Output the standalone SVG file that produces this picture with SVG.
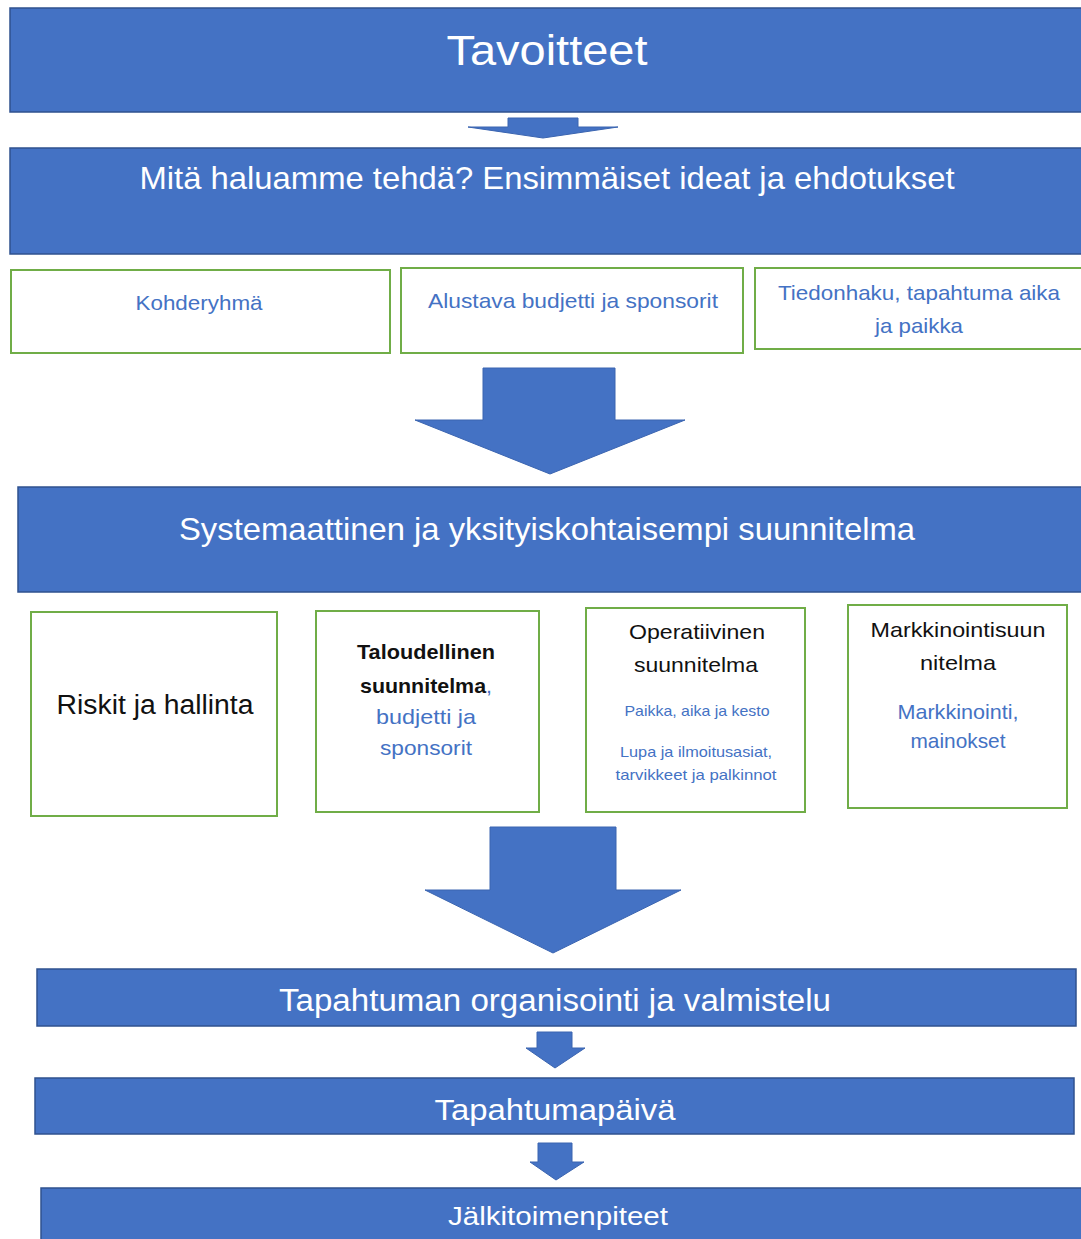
<svg xmlns="http://www.w3.org/2000/svg" width="1081" height="1239" viewBox="0 0 1081 1239">
<style>
.band{fill:#4472C4;stroke:#2F528F;stroke-width:1.5}
.gbox{fill:#fff;stroke:#70AD47;stroke-width:2}
.arr{fill:#4472C4;stroke:#3A64B0;stroke-width:1}
text{font-family:"Liberation Sans",Arial,sans-serif;text-anchor:middle}
.wt{fill:#fff}
.bt{fill:#4472C4}
.kt{fill:#111}
</style>
<rect width="1081" height="1239" fill="#fff"/>
<g id="connectors">
<polygon class="arr" points="508,118 578,118 578,127 618,127 543,138 468,127 508,127"/>
<polygon class="arr" points="483,368 615,368 615,420 685,420 550,474 415,420 483,420"/>
<polygon class="arr" points="490,827 616,827 616,890 681,890 553,953 425,890 490,890"/>
<polygon class="arr" points="537,1032 572,1032 572,1048 585,1048 555,1068 526,1048 537,1048"/>
<polygon class="arr" points="538,1143 572,1143 572,1162 584,1162 556,1180 530,1162 538,1162"/>
</g>
<g id="tavoitteet">
<rect class="band" x="10" y="8" width="1075" height="104"/>
<text class="wt" x="547" y="65" font-size="42" textLength="201" lengthAdjust="spacingAndGlyphs">Tavoitteet</text>
</g>
<g id="ideat">
<rect class="band" x="10" y="148" width="1075" height="106"/>
<text class="wt" x="547" y="189" font-size="32" textLength="815" lengthAdjust="spacingAndGlyphs">Mitä haluamme tehdä? Ensimmäiset ideat ja ehdotukset</text>
</g>
<g id="kohderyhma">
<rect class="gbox" x="11" y="270" width="379" height="83"/>
<text class="bt" x="199" y="310" font-size="21" textLength="127" lengthAdjust="spacingAndGlyphs">Kohderyhmä</text>
</g>
<g id="alustava">
<rect class="gbox" x="401" y="268" width="342" height="85"/>
<text class="bt" x="573" y="308" font-size="21" textLength="290" lengthAdjust="spacingAndGlyphs">Alustava budjetti ja sponsorit</text>
</g>
<g id="tiedonhaku">
<rect class="gbox" x="755" y="268" width="330" height="81"/>
<text class="bt" x="919" y="300" font-size="21" textLength="282" lengthAdjust="spacingAndGlyphs">Tiedonhaku, tapahtuma aika</text>
<text class="bt" x="919" y="333" font-size="21" textLength="88" lengthAdjust="spacingAndGlyphs">ja paikka</text>
</g>
<g id="systemaattinen">
<rect class="band" x="18" y="487" width="1067" height="105"/>
<text class="wt" x="547" y="540" font-size="32" textLength="736" lengthAdjust="spacingAndGlyphs">Systemaattinen ja yksityiskohtaisempi suunnitelma</text>
</g>
<g id="riskit">
<rect class="gbox" x="31" y="612" width="246" height="204"/>
<text class="kt" x="155" y="714" font-size="27" textLength="197" lengthAdjust="spacingAndGlyphs">Riskit ja hallinta</text>
</g>
<g id="taloudellinen">
<rect class="gbox" x="316" y="611" width="223" height="201"/>
<text class="kt" x="426" y="659" font-size="21" font-weight="bold" textLength="138" lengthAdjust="spacingAndGlyphs">Taloudellinen</text>
<text x="426" y="693" font-size="21" textLength="132" lengthAdjust="spacingAndGlyphs"><tspan class="kt" font-weight="bold">suunnitelma</tspan><tspan class="bt">,</tspan></text>
<text class="bt" x="426" y="724" font-size="21" textLength="100" lengthAdjust="spacingAndGlyphs">budjetti ja</text>
<text class="bt" x="426" y="755" font-size="21" textLength="92" lengthAdjust="spacingAndGlyphs">sponsorit</text>
</g>
<g id="operatiivinen">
<rect class="gbox" x="586" y="608" width="219" height="204"/>
<text class="kt" x="697" y="639" font-size="21" textLength="136" lengthAdjust="spacingAndGlyphs">Operatiivinen</text>
<text class="kt" x="696" y="672" font-size="21" textLength="124" lengthAdjust="spacingAndGlyphs">suunnitelma</text>
<text class="bt" x="697" y="716" font-size="15" textLength="145" lengthAdjust="spacingAndGlyphs">Paikka, aika ja kesto</text>
<text class="bt" x="696" y="757" font-size="15" textLength="152" lengthAdjust="spacingAndGlyphs">Lupa ja ilmoitusasiat,</text>
<text class="bt" x="696" y="780" font-size="15" textLength="161" lengthAdjust="spacingAndGlyphs">tarvikkeet ja palkinnot</text>
</g>
<g id="markkinointi">
<rect class="gbox" x="848" y="605" width="219" height="203"/>
<text class="kt" x="958" y="637" font-size="21" textLength="175" lengthAdjust="spacingAndGlyphs">Markkinointisuun</text>
<text class="kt" x="958" y="670" font-size="21" textLength="76" lengthAdjust="spacingAndGlyphs">nitelma</text>
<text class="bt" x="958" y="719" font-size="21" textLength="121" lengthAdjust="spacingAndGlyphs">Markkinointi,</text>
<text class="bt" x="958" y="748" font-size="21" textLength="95" lengthAdjust="spacingAndGlyphs">mainokset</text>
</g>
<g id="organisointi">
<rect class="band" x="37" y="969" width="1039" height="57"/>
<text class="wt" x="555" y="1011" font-size="31" textLength="552" lengthAdjust="spacingAndGlyphs">Tapahtuman organisointi ja valmistelu</text>
</g>
<g id="tapahtumapaiva">
<rect class="band" x="35" y="1078" width="1039" height="56"/>
<text class="wt" x="555" y="1120" font-size="30" textLength="241" lengthAdjust="spacingAndGlyphs">Tapahtumapäivä</text>
</g>
<g id="jalkitoimenpiteet">
<rect class="band" x="41" y="1188" width="1044" height="60"/>
<text class="wt" x="558" y="1225" font-size="26" textLength="220" lengthAdjust="spacingAndGlyphs">Jälkitoimenpiteet</text>
</g>
</svg>
